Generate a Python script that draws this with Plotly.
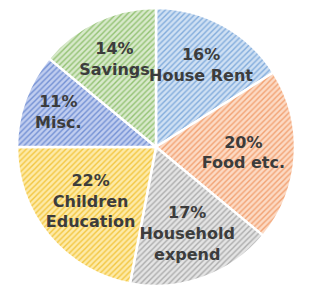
import plotly.graph_objects as go

labels = ["House Rent", "Food etc.", "Household<br>expend", "Children<br>Education", "Misc.", "Savings"]
values = [16, 20, 17, 22, 11, 14]
bg_colors = ["#cfe0f3", "#fcdac4", "#e4e4e4", "#fdeaa8", "#c0cdef", "#d8e9cb"]
fg_colors = ["#82acdc", "#f2a273", "#acacac", "#f3c640", "#7390d4", "#93c273"]

domain = dict(x=[0.0525, 0.9105], y=[0.027, 0.973])
common = dict(labels=labels, values=values, sort=False, direction="clockwise",
              rotation=0, domain=domain, showlegend=False, hoverinfo="skip")

# filled slices with hatch pattern (no text)
fig = go.Figure(go.Pie(
    **common,
    textinfo="none",
    marker=dict(
        colors=bg_colors,
        line=dict(color="white", width=2.5),
        pattern=dict(shape="/", fgcolor=fg_colors, bgcolor=bg_colors, size=4, solidity=0.35, fillmode="replace"),
    ),
))

# transparent overlay carrying the labels, so no slice hides another's text
fig.add_trace(go.Pie(
    **common,
    texttemplate="%{value}%<br>%{label}",
    textposition="inside",
    insidetextorientation="horizontal",
    textfont=dict(family="DejaVu Sans", size=16, color="#3c3c3c", weight="bold"),
    marker=dict(colors=["rgba(0,0,0,0)"] * len(values), line=dict(width=0)),
))

fig.update_layout(
    width=324, height=294,
    margin=dict(l=0, r=0, t=0, b=0),
    paper_bgcolor="white",
    plot_bgcolor="white",
    uniformtext=dict(minsize=16, mode="show"),
)

fig.write_html("out.html")
